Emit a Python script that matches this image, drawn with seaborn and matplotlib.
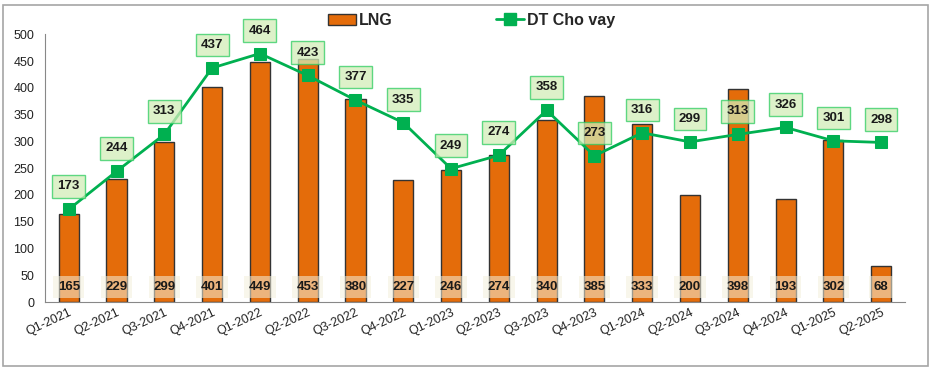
import numpy as np
import pandas as pd
import seaborn as sns
import matplotlib
matplotlib.use("Agg")
from matplotlib import pyplot as plt
from matplotlib.patches import Rectangle, Patch
from matplotlib.lines import Line2D

quarters = ["Q1-2021", "Q2-2021", "Q3-2021", "Q4-2021", "Q1-2022", "Q2-2022",
            "Q3-2022", "Q4-2022", "Q1-2023", "Q2-2023", "Q3-2023", "Q4-2023",
            "Q1-2024", "Q2-2024", "Q3-2024", "Q4-2024", "Q1-2025", "Q2-2025"]
lng = [165, 229, 299, 401, 449, 453, 380, 227, 246, 274, 340, 385, 333, 200, 398, 193, 302, 68]
dt_cho_vay = [173, 244, 313, 437, 464, 423, 377, 335, 249, 274, 358, 273, 316, 299, 313, 326, 301, 298]

df = pd.DataFrame({"quarter": quarters, "LNG": lng, "DT Cho vay": dt_cho_vay})

orange = "#E46C0A"
green = "#00B050"

sns.set_style("white")
plt.rcParams["font.family"] = ["Liberation Sans", "DejaVu Sans"]

fig = plt.figure(figsize=(9.34, 3.72), dpi=100)
ax = fig.add_axes([0.048, 0.188, 0.921, 0.72])

sns.barplot(data=df, x="quarter", y="LNG", ax=ax, color=orange, width=0.42,
            edgecolor="#333333", linewidth=1, saturation=1)
sns.lineplot(data=df, x="quarter", y="DT Cho vay", ax=ax, color=green, linewidth=2,
             marker="s", markersize=9, markeredgecolor=green, sort=False)

# bar value labels near the bottom
for i, v in enumerate(lng):
    ax.text(i, 28, str(v), ha="center", va="center", fontsize=9.5, fontweight="bold",
            color="#1a1a1a", zorder=5,
            bbox=dict(boxstyle="square,pad=0.35", facecolor="#f3f0dc", edgecolor="none", alpha=0.55))

# line value labels above the markers
for i, v in enumerate(dt_cho_vay):
    ax.annotate(str(v), (i, v), xytext=(0, 16.5), textcoords="offset points",
                ha="center", va="center", fontsize=9.5, fontweight="bold", color="#1a1a1a",
                zorder=6,
                bbox=dict(boxstyle="square,pad=0.4", facecolor="#d2edb8", edgecolor="#2ecc60",
                          linewidth=1, alpha=0.75))

ax.set_ylim(0, 500)
ax.set_xlim(-0.5, len(quarters) - 0.5)
ax.set_yticks(np.arange(0, 501, 50))
ax.set_xlabel("")
ax.set_ylabel("")
ax.tick_params(axis="y", labelsize=9, colors="#222222", length=4, color="#888888")
ax.tick_params(axis="x", labelsize=9, colors="#222222", length=0)
ax.set_xticks(range(len(quarters)))
ax.set_xticklabels(quarters, rotation=25, ha="right", rotation_mode="anchor")
ax.set_xticks(np.arange(-0.5, len(quarters), 1), minor=True)
ax.tick_params(axis="x", which="minor", length=4, color="#888888")
for s in ["top", "right"]:
    ax.spines[s].set_visible(False)
ax.spines["left"].set_color("#888888")
ax.spines["bottom"].set_color("#888888")

handles = [Patch(facecolor=orange, edgecolor="#333333", label="LNG"),
           Line2D([0], [0], color=green, lw=2, marker="s", markersize=8, label="DT Cho vay")]
fig.legend(handles=handles, loc="center", bbox_to_anchor=(0.505, 0.945), ncol=2,
           frameon=False, columnspacing=6.5, handlelength=1.7, handletextpad=0.2,
           prop={"weight": "bold", "size": 11.5})

fig.patches.append(Rectangle((3 / 934, 1 - 366 / 372), 925 / 934, 361 / 372,
                             transform=fig.transFigure, fill=False,
                             edgecolor="#a6a6a6", linewidth=1.2))

fig.savefig("out.png", dpi=100)
